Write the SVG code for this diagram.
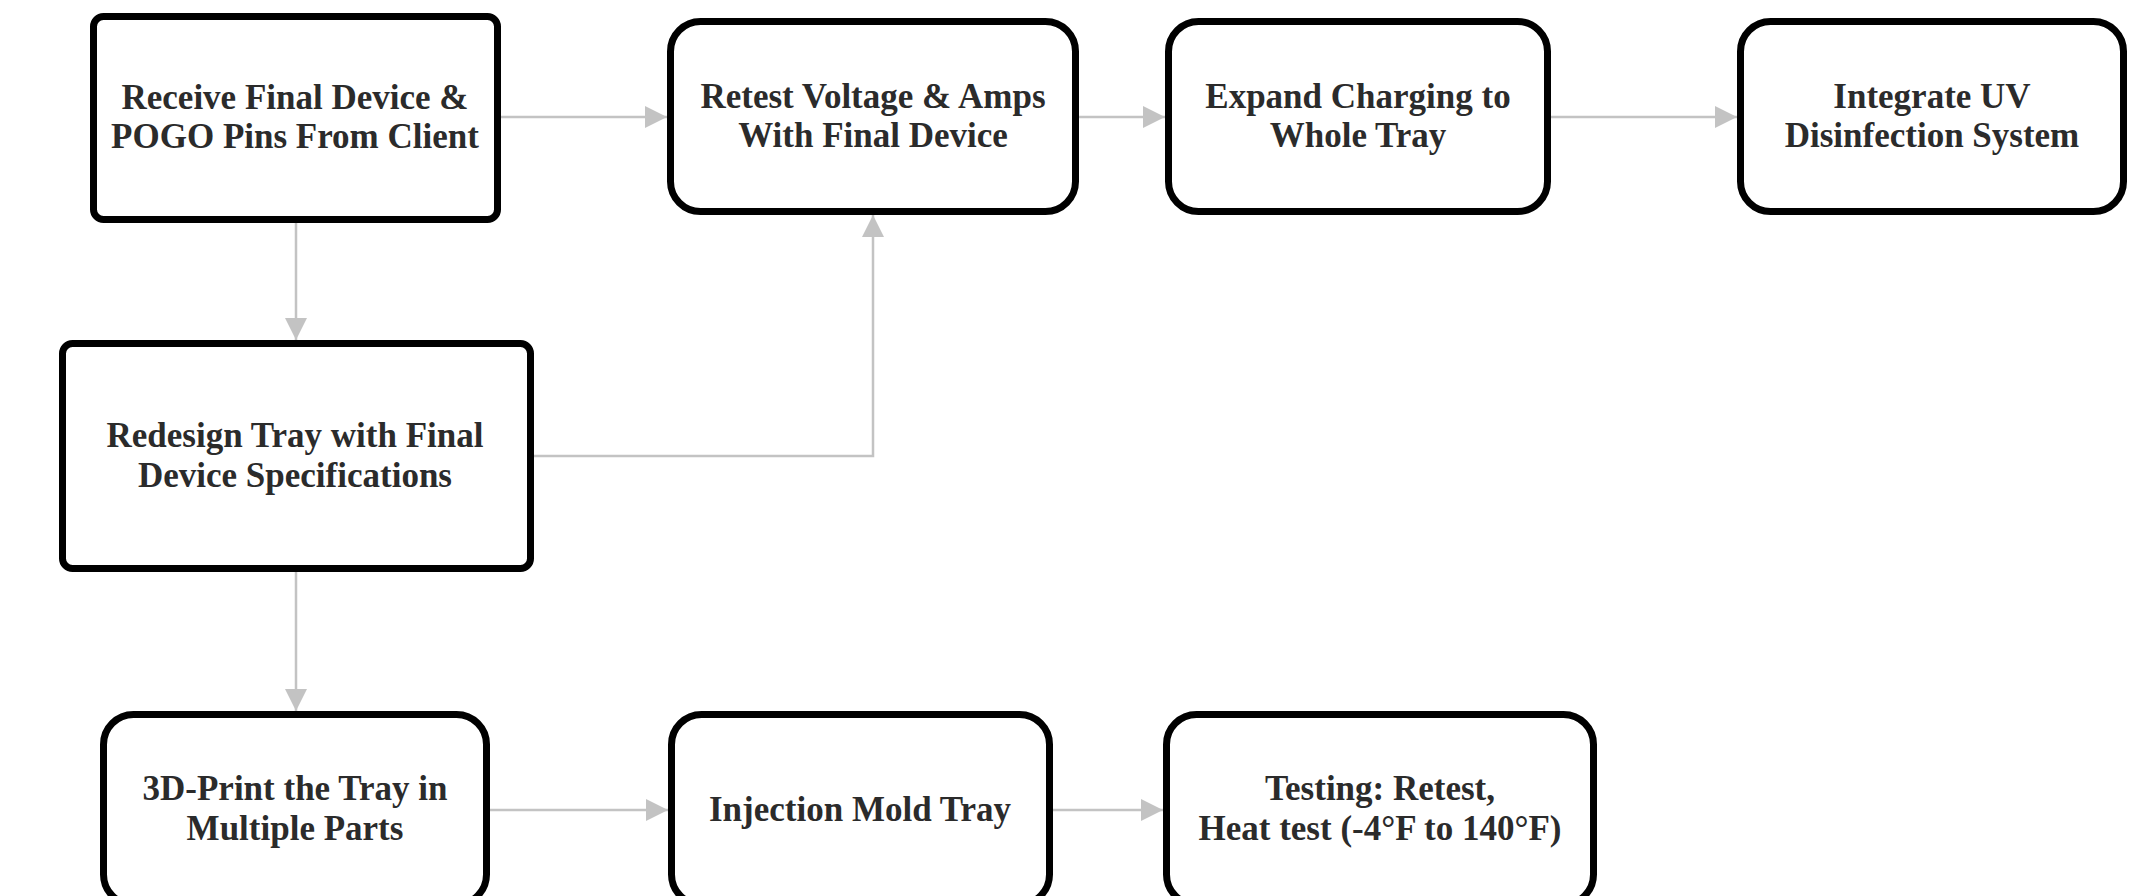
<svg xmlns="http://www.w3.org/2000/svg" width="2148" height="896" viewBox="0 0 2148 896">
<defs>
<style>
.box{fill:#ffffff;stroke:#000000;stroke-width:7}
.lbl{font-family:"Liberation Serif","Times New Roman",serif;font-weight:bold;font-size:35px;fill:#2b2b2b;text-anchor:middle}
.conn{fill:none;stroke:#c3c3c3;stroke-width:2.5}
</style>
<marker id="arr" markerUnits="userSpaceOnUse" markerWidth="22" markerHeight="22" refX="22" refY="11" orient="auto">
<path d="M0,0 L22,11 L0,22 z" fill="#c3c3c3"/>
</marker>
</defs>
<rect x="0" y="0" width="2148" height="896" fill="#ffffff"/>
<g id="connectors">
<path class="conn" d="M501,117 H667" marker-end="url(#arr)"/>
<path class="conn" d="M1079,117 H1165" marker-end="url(#arr)"/>
<path class="conn" d="M1551,117 H1737" marker-end="url(#arr)"/>
<path class="conn" d="M296,223 V340" marker-end="url(#arr)"/>
<path class="conn" d="M534,456 H873 V215" marker-end="url(#arr)"/>
<path class="conn" d="M296,572 V711" marker-end="url(#arr)"/>
<path class="conn" d="M490,810 H668" marker-end="url(#arr)"/>
<path class="conn" d="M1053,810 H1163" marker-end="url(#arr)"/>
</g>
<g id="node-receive">
<rect class="box" x="93.5" y="16.5" width="404" height="203" rx="10"/>
<text class="lbl" x="295" y="109">Receive Final Device &amp;</text>
<text class="lbl" x="295" y="148">POGO Pins From Client</text>
</g>
<g id="node-retest">
<rect class="box" x="670.5" y="21.5" width="405" height="190" rx="30"/>
<text class="lbl" x="873" y="108">Retest Voltage &amp; Amps</text>
<text class="lbl" x="873" y="147">With Final Device</text>
</g>
<g id="node-expand">
<rect class="box" x="1168.5" y="21.5" width="379" height="190" rx="30"/>
<text class="lbl" x="1358" y="108">Expand Charging to</text>
<text class="lbl" x="1358" y="147">Whole Tray</text>
</g>
<g id="node-uv">
<rect class="box" x="1740.5" y="21.5" width="383" height="190" rx="30"/>
<text class="lbl" x="1932" y="108">Integrate UV</text>
<text class="lbl" x="1932" y="147">Disinfection System</text>
</g>
<g id="node-redesign">
<rect class="box" x="62.5" y="343.5" width="468" height="225" rx="10"/>
<text class="lbl" x="295" y="447">Redesign Tray with Final</text>
<text class="lbl" x="295" y="487">Device Specifications</text>
</g>
<g id="node-3dprint">
<rect class="box" x="103.5" y="714.5" width="383" height="190" rx="30"/>
<text class="lbl" x="295" y="800">3D-Print the Tray in</text>
<text class="lbl" x="295" y="840">Multiple Parts</text>
</g>
<g id="node-injection">
<rect class="box" x="671.5" y="714.5" width="378" height="190" rx="30"/>
<text class="lbl" x="860" y="821">Injection Mold Tray</text>
</g>
<g id="node-testing">
<rect class="box" x="1166.5" y="714.5" width="427" height="190" rx="30"/>
<text class="lbl" x="1380" y="800">Testing: Retest,</text>
<text class="lbl" x="1380" y="840">Heat test (-4°F to 140°F)</text>
</g>
</svg>
